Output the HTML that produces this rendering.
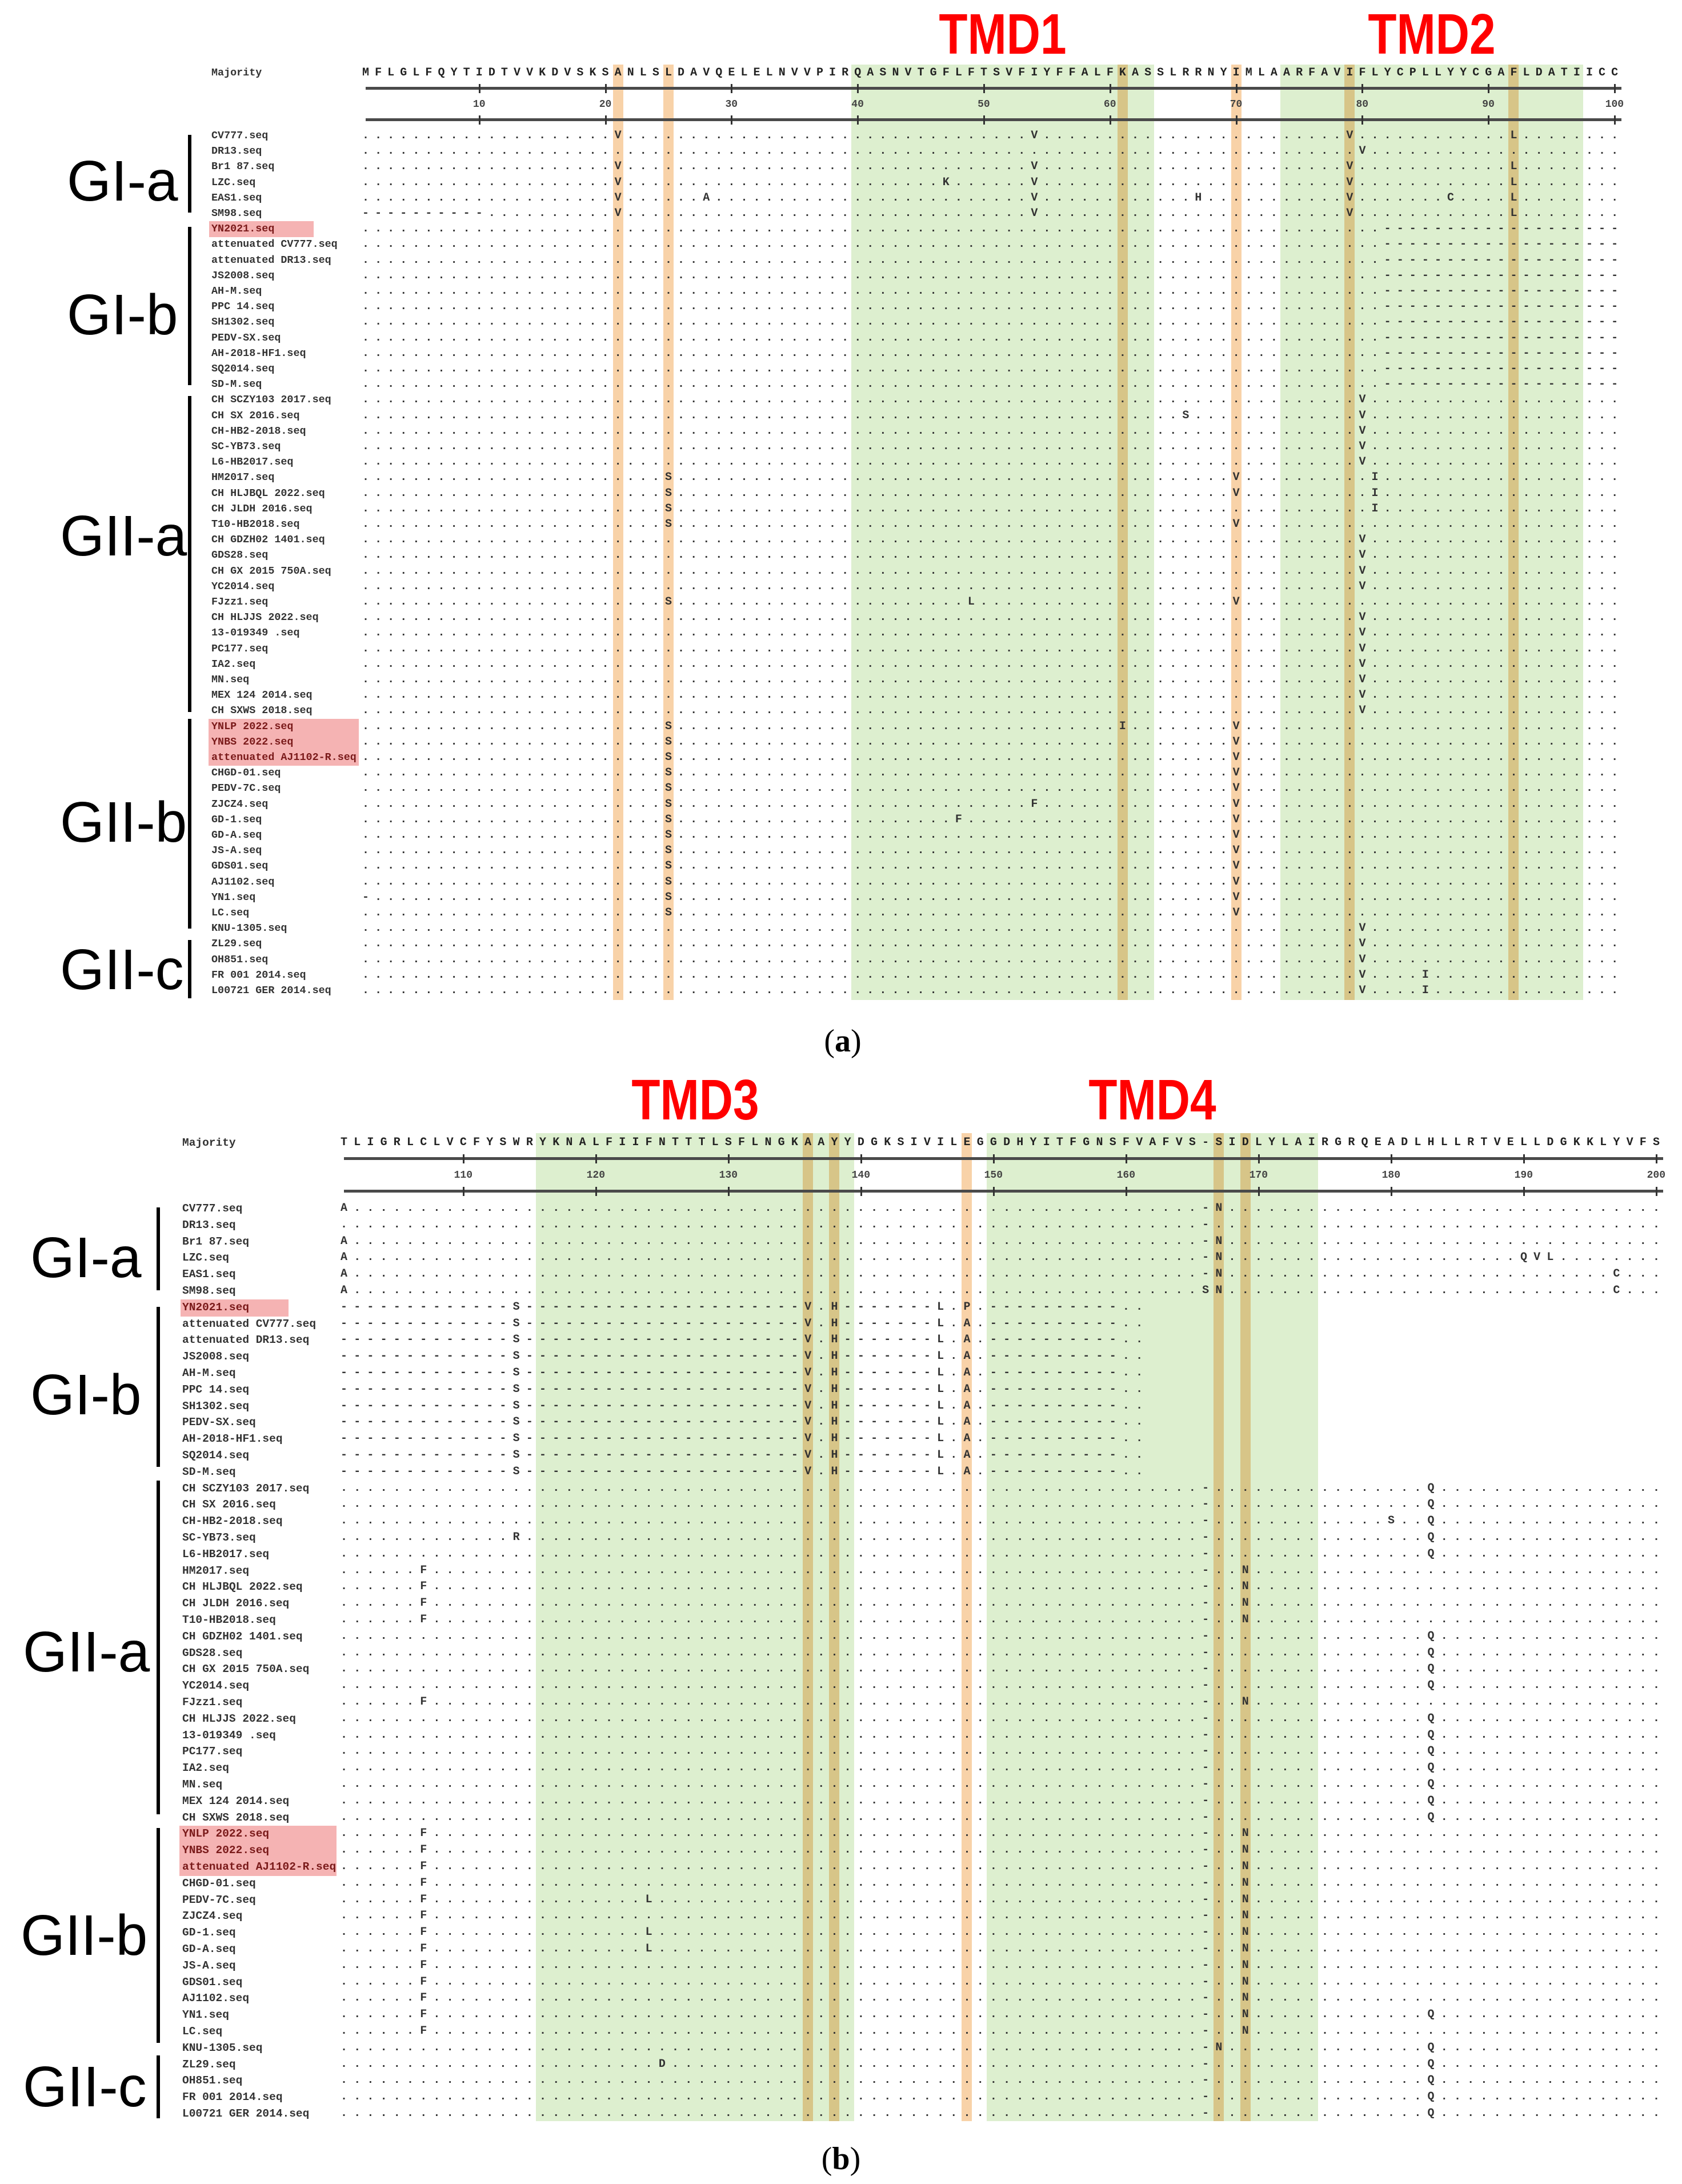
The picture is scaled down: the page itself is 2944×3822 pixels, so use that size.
<!DOCTYPE html>
<html><head><meta charset="utf-8">
<style>
html,body{margin:0;padding:0;background:#fff;}
#root{position:relative;width:2944px;height:3822px;overflow:hidden;background:#fff;}
.abs{position:absolute;}
.seq{position:absolute;white-space:pre;font-family:"Liberation Mono",monospace;font-size:20px;line-height:28px;color:#333;font-weight:bold;}
.nm{position:absolute;white-space:pre;font-family:"Liberation Mono",monospace;line-height:28px;color:#333;font-weight:bold;}
.grp{position:absolute;font-family:"Liberation Sans",sans-serif;font-size:100px;line-height:100px;color:#000;white-space:pre;}
.tmd{position:absolute;font-family:"Liberation Sans",sans-serif;font-weight:bold;font-size:100px;line-height:100px;color:#f00;white-space:pre;transform:scaleX(0.82);transform-origin:center;}
.cap{position:absolute;font-family:"Liberation Serif",serif;font-size:56px;line-height:60px;color:#000;}
</style></head>
<body>
<div id="root"></div>
<script>
// ===== data =====
const seqNames = ["CV777.seq","DR13.seq","Br1 87.seq","LZC.seq","EAS1.seq","SM98.seq","YN2021.seq","attenuated CV777.seq","attenuated DR13.seq","JS2008.seq","AH-M.seq","PPC 14.seq","SH1302.seq","PEDV-SX.seq","AH-2018-HF1.seq","SQ2014.seq","SD-M.seq","CH SCZY103 2017.seq","CH SX 2016.seq","CH-HB2-2018.seq","SC-YB73.seq","L6-HB2017.seq","HM2017.seq","CH HLJBQL 2022.seq","CH JLDH 2016.seq","T10-HB2018.seq","CH GDZH02 1401.seq","GDS28.seq","CH GX 2015 750A.seq","YC2014.seq","FJzz1.seq","CH HLJJS 2022.seq","13-019349 .seq","PC177.seq","IA2.seq","MN.seq","MEX 124 2014.seq","CH SXWS 2018.seq","YNLP 2022.seq","YNBS 2022.seq","attenuated AJ1102-R.seq","CHGD-01.seq","PEDV-7C.seq","ZJCZ4.seq","GD-1.seq","GD-A.seq","JS-A.seq","GDS01.seq","AJ1102.seq","YN1.seq","LC.seq","KNU-1305.seq","ZL29.seq","OH851.seq","FR 001 2014.seq","L00721 GER 2014.seq"];
const highlightRows = [6,38,39,40];
const majorityA = "MFLGLFQYTIDTVVKDVSKSANLSLDAVQELELNVVPIRQASNVTGFLFTSVFIYFFALFKASSLRRNYIMLAARFAVIFLYCPLLYYCGAFLDATIICC";
const majorityB = "TLIGRLCLVCFYSWRYKNALFIIFNTTTLSFLNGKAAYYDGKSIVILEGGDHYITFGNSFVAFVS-SIDLYLAIRGRQEADLHLLRTVELLDGKKLYVFS";
const ticksA = [10,20,30,40,50,60,70,80,90,100];
const ticksB = [110,120,130,140,150,160,170,180,190,200];
const tmdA = [["TMD1",40,63],["TMD2",74,97]];
const tmdB = [["TMD3",116,139],["TMD4",150,174]];
const orangeA = [21,25,61,70,79,92];
const orangeB = [136,138,148,167,169];
const GIb_A = "82-100:-";
const GIb_B = "101-113:- 114S 115-135:- 136V 138H 139-145:- 146L 148A 150-159:- 162-200:_";
const varsA = ["21V 54V 79V 92L","80V","21V 54V 79V 92L","21V 47K 54V 79V 92L","21V 28A 54V 67H 79V 87C 92L","1-10:- 21V 54V 79V 92L",
 GIb_A,GIb_A,GIb_A,GIb_A,GIb_A,GIb_A,GIb_A,GIb_A,GIb_A,GIb_A,GIb_A,
 "80V","66S 80V","80V","80V","80V","25S 70V 81I","25S 70V 81I","25S 81I","25S 70V","80V","80V","80V","80V","25S 49L 70V","80V","80V","80V","80V","80V","80V","80V",
 "25S 61I 70V","25S 70V","25S 70V","25S 70V","25S 70V","25S 54F 70V","25S 48F 70V","25S 70V","25S 70V","25S 70V","25S 70V","1- 25S 70V","25S 70V",
 "80V","80V","80V","80V 85I","80V 85I"];
const varsB = ["101A 166- 167N","166-","101A 166- 167N","101A 166- 167N 190Q 191V 192L","101A 166- 167N 197C","101A 166S 167N 197C",
 "101-113:- 114S 115-135:- 136V 138H 139-145:- 146L 148P 150-159:- 162-200:_",GIb_B,GIb_B,GIb_B,GIb_B,GIb_B,GIb_B,GIb_B,GIb_B,GIb_B,GIb_B,
 "166- 183Q","166- 183Q","166- 180S 183Q","114R 166- 183Q","166- 183Q","107F 166- 169N","107F 166- 169N","107F 166- 169N","107F 166- 169N","166- 183Q","166- 183Q","166- 183Q","166- 183Q","107F 166- 169N","166- 183Q","166- 183Q","166- 183Q","166- 183Q","166- 183Q","166- 183Q","166- 183Q",
 "107F 166- 169N","107F 166- 169N","107F 166- 169N","107F 166- 169N","107F 124L 166- 169N","107F 166- 169N","107F 124L 166- 169N","107F 124L 166- 169N","107F 166- 169N","107F 166- 169N","107F 166- 169N","107F 166- 169N 183Q","107F 166- 169N",
 "166- 167N 183Q","125D 166- 183Q","166- 183Q","166- 183Q","166- 183Q"];
const groupNames = ["GI-a","GI-b","GII-a","GII-b","GII-c"];

// ===== layout =====
const root = document.getElementById('root');
function mk(tag, cls, css, text){
  const e=document.createElement(tag); if(cls) e.className=cls;
  Object.assign(e.style, css); if(text!==undefined) e.textContent=text; root.appendChild(e); return e;
}
const panels = [
 {maj:majorityA, vars:varsA, ticks:ticksA, tmd:tmdA, orange:orangeA, p0:1, x0:640, pitch:22.08, y0:238, dy:27.2, majY:128, rule1:155, rule2:210, numY:183, top:113, bot:1750, nameX:370, nameFs:18.4, tmdCap:23, key:'a',
  grpCy:[316,550,937,1438,1696], grpX:[117,117,105,105,105], grpBar:[[236,372],[397,674],[693,1246],[1258,1625],[1645,1747]], barX:332,
  pink:[[366,549],[365,628]], cap:[1475,1822]},
 {maj:majorityB, vars:varsB, ticks:ticksB, tmd:tmdB, orange:orangeB, p0:101, x0:602, pitch:23.2, y0:2115, dy:28.8, majY:2000, rule1:2028, rule2:2085, numY:2057, top:1983, bot:3712, nameX:319, nameFs:19.5, tmdCap:1888, key:'b',
  grpCy:[2200,2440,2890,3386,3651], grpX:[53,53,40,36,40], grpBar:[[2113,2258],[2287,2567],[2591,3175],[3199,3575],[3597,3707]], barX:277,
  pink:[[316,505],[314,589]], cap:[1472,3778]}
];
function parseVars(str, p0){
  const arr = new Array(100).fill('.');
  if(!str) return arr;
  str.split(' ').forEach(t=>{
    let m = t.match(/^(\d+)-(\d+):(.)$/);
    if(m){ for(let p=+m[1]; p<=+m[2]; p++) arr[p-p0] = m[3]==='_'?' ':m[3]; return; }
    m = t.match(/^(\d+)(.)$/);
    if(m) arr[+m[1]-p0] = m[2];
  });
  return arr;
}
panels.forEach(P=>{
  const col = p => P.x0 + (p-P.p0)*P.pitch;
  const rowY = i => P.y0 + i*P.dy;
  P.tmd.forEach(t=>{
    const l = col(t[1])-P.pitch/2, r = col(t[2])+P.pitch/2;
    const g = mk('div','abs',{left:l+'px',top:P.top+'px',width:(r-l)+'px',height:(P.bot-P.top)+'px',background:'#ddefcf'});
    
    
    const lab = mk('div','tmd',{left:((l+r)/2-150)+'px',width:'300px',textAlign:'center',top:(P.tmdCap-13)+'px'},t[0]);
    
    
  });
  P.orange.forEach(p=>{
    const o = mk('div','abs',{left:(col(p)-9)+'px',top:P.top+'px',width:'18px',height:(P.bot-P.top)+'px',background:'#f8d2a8',mixBlendMode:'multiply'});
    
    
  });
  const mj = mk('div','nm',{left:P.nameX+'px',top:(P.majY-14)+'px',fontSize:P.nameFs+'px'},'Majority');
  
  
  const ms = mk('div','seq',{left:(col(P.p0)-6)+'px',top:(P.majY-14)+'px',letterSpacing:(P.pitch-12)+'px',color:'#222'},P.maj);
  
  
  [P.rule1,P.rule2].forEach((y,k)=>{
    const ln = mk('div','abs',{left:col(P.p0)+'px',top:(y-3)+'px',width:(col(P.p0+99)-col(P.p0)+12)+'px',height:'5px',background:'#4a4a4a'});
    
    
    P.ticks.forEach(t=>{
      const tk = mk('div','abs',{left:(col(t)-1)+'px',top:(y-8)+'px',width:'3px',height:'16px',background:'#333'});
      
      
    });
  });
  P.ticks.forEach(t=>{
    const n = mk('div','abs',{left:(col(t)-30)+'px',width:'60px',textAlign:'center',top:(P.numY-12)+'px',fontFamily:'"Liberation Mono",monospace',fontSize:'18px',fontWeight:'bold',color:'#444',lineHeight:'24px'},String(t));
    
    
  });
  const pk1 = mk('div','abs',{left:P.pink[0][0]+'px',top:(rowY(6)-14)+'px',width:(P.pink[0][1]-P.pink[0][0])+'px',height:(P.dy+1)+'px',background:'#f5b3b3'});
  
  
  const pk2 = mk('div','abs',{left:P.pink[1][0]+'px',top:(rowY(38)-14)+'px',width:(P.pink[1][1]-P.pink[1][0])+'px',height:(P.dy*3+1)+'px',background:'#f5b3b3'});
  
  
  seqNames.forEach((name,i)=>{
    const y = rowY(i);
    const n = mk('div','nm',{left:P.nameX+'px',top:(y-14)+'px',fontSize:P.nameFs+'px',color:highlightRows.includes(i)?'#7a1a1a':'#333'},name);
    
    
    const s = mk('div','seq',{left:(col(P.p0)-6)+'px',top:(y-14)+'px',letterSpacing:(P.pitch-12)+'px'},parseVars(P.vars[i],P.p0).join(''));
    
    
  });
  groupNames.forEach((g,k)=>{
    const gl = mk('div','grp',{left:P.grpX[k]+'px',top:(P.grpCy[k]-49)+'px'},g);
    
    
    const b = mk('div','abs',{left:(P.barX-3)+'px',top:P.grpBar[k][0]+'px',width:'6px',height:(P.grpBar[k][1]-P.grpBar[k][0])+'px',background:'#000'});
    
    
  });
  const c = mk('div','cap',{left:(P.cap[0]-60)+'px',width:'120px',textAlign:'center',top:(P.cap[1]-30)+'px'});
  c.innerHTML = '(<b>'+P.key+'</b>)';
  
  
});
</script>
</body></html>
